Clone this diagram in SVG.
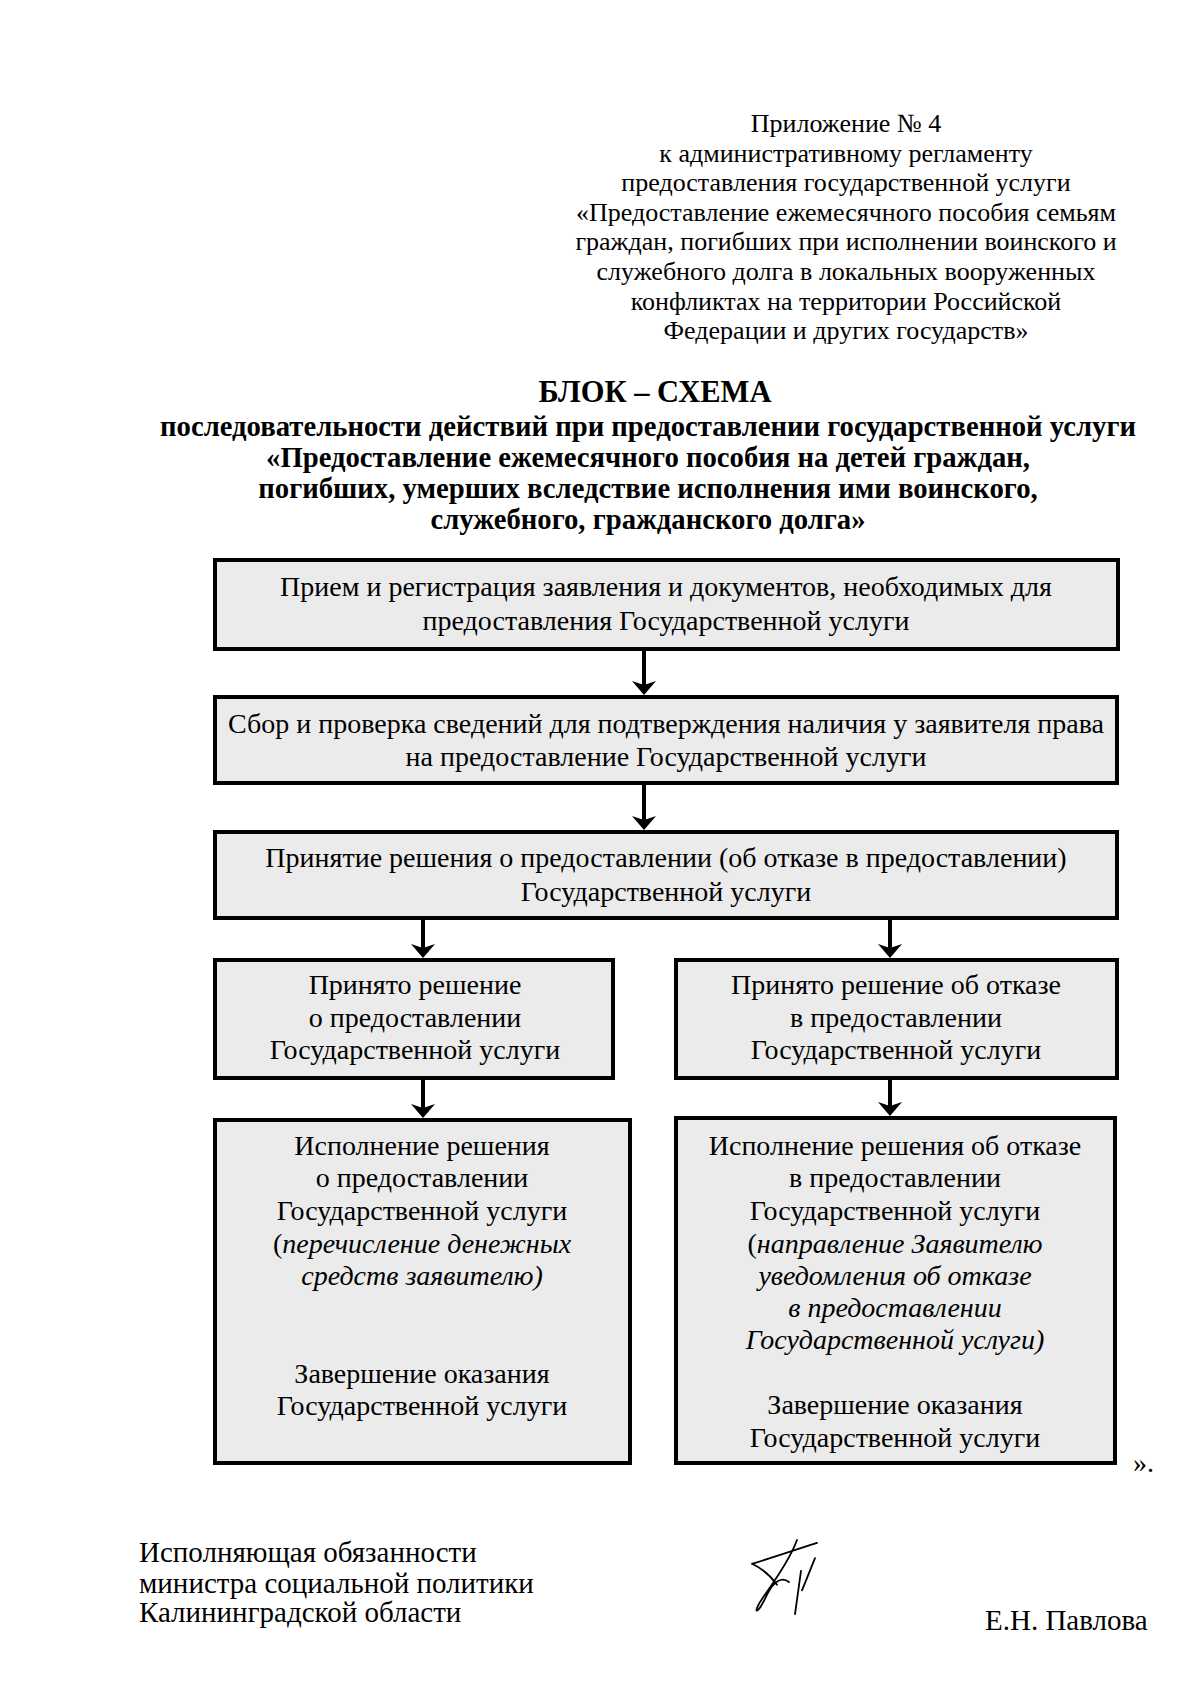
<svg xmlns="http://www.w3.org/2000/svg" width="1200" height="1701" viewBox="0 0 1200 1701">
<defs>
<style>
text{font-family:"Liberation Serif","Times New Roman",serif;fill:#000}
.h{font-size:26px;text-anchor:middle}
.t{font-size:28.7px;font-weight:bold;text-anchor:middle}
.b{font-size:28px;text-anchor:middle}
.i{font-style:italic}
.f{font-size:29px}
.box{fill:#ebebeb;stroke:#000;stroke-width:4}
.con line{stroke:#000;stroke-width:4}
</style>
<marker id="ah" viewBox="0 0 14 24" refX="4" refY="12" markerWidth="14" markerHeight="24" markerUnits="userSpaceOnUse" orient="auto">
<path d="M0,0 L14,12 L0,24 L4,12 Z" fill="#000"/>
</marker>
</defs>
<rect width="1200" height="1701" fill="#fff"/>

<g id="header">
<text class="h" x="846" y="132">Приложение № 4</text>
<text class="h" x="846" y="162">к административному регламенту</text>
<text class="h" x="846" y="191">предоставления государственной услуги</text>
<text class="h" x="846" y="221">«Предоставление ежемесячного пособия семьям</text>
<text class="h" x="846" y="250">граждан, погибших при исполнении воинского и</text>
<text class="h" x="846" y="280">служебного долга в локальных вооруженных</text>
<text class="h" x="846" y="310">конфликтах на территории Российской</text>
<text class="h" x="846" y="339">Федерации и других государств»</text>
</g>

<g id="title">
<text class="t" x="655" y="402" style="font-size:30.5px">БЛОК – СХЕМА</text>
<text class="t" x="648" y="436">последовательности действий при предоставлении государственной услуги</text>
<text class="t" x="648" y="467">«Предоставление ежемесячного пособия на детей граждан,</text>
<text class="t" x="648" y="498">погибших, умерших вследствие исполнения ими воинского,</text>
<text class="t" x="648" y="529">служебного, гражданского долга»</text>
</g>

<g id="node1">
<rect class="box" x="215" y="560" width="903" height="89"/>
<text class="b" x="666" y="596">Прием и регистрация заявления и документов, необходимых для</text>
<text class="b" x="666" y="630">предоставления Государственной услуги</text>
</g>

<g id="node2">
<rect class="box" x="215" y="697" width="902" height="86"/>
<text class="b" x="666" y="733">Сбор и проверка сведений для подтверждения наличия у заявителя права</text>
<text class="b" x="666" y="766">на предоставление Государственной услуги</text>
</g>

<g id="node3">
<rect class="box" x="215" y="832" width="902" height="86"/>
<text class="b" x="666" y="867">Принятие решения о предоставлении (об отказе в предоставлении)</text>
<text class="b" x="666" y="901">Государственной услуги</text>
</g>

<g id="node4l">
<rect class="box" x="215" y="960" width="398" height="118"/>
<text class="b" x="415" y="994">Принято решение</text>
<text class="b" x="415" y="1027">о предоставлении</text>
<text class="b" x="415" y="1059">Государственной услуги</text>
</g>

<g id="node4r">
<rect class="box" x="676" y="960" width="441" height="118"/>
<text class="b" x="896" y="994">Принято решение об отказе</text>
<text class="b" x="896" y="1027">в предоставлении</text>
<text class="b" x="896" y="1059">Государственной услуги</text>
</g>

<g id="node5l">
<rect class="box" x="215" y="1120" width="415" height="343"/>
<text class="b" x="422" y="1155">Исполнение решения</text>
<text class="b" x="422" y="1187">о предоставлении</text>
<text class="b" x="422" y="1220">Государственной услуги</text>
<text class="b" x="422" y="1253">(<tspan class="i">перечисление денежных</tspan></text>
<text class="b i" x="422" y="1285">средств заявителю)</text>
<text class="b" x="422" y="1383">Завершение оказания</text>
<text class="b" x="422" y="1415">Государственной услуги</text>
</g>

<g id="node5r">
<rect class="box" x="676" y="1118" width="439" height="345"/>
<text class="b" x="895" y="1155">Исполнение решения об отказе</text>
<text class="b" x="895" y="1187">в предоставлении</text>
<text class="b" x="895" y="1220">Государственной услуги</text>
<text class="b" x="895" y="1253">(<tspan class="i">направление Заявителю</tspan></text>
<text class="b i" x="895" y="1285">уведомления об отказе</text>
<text class="b i" x="895" y="1317">в предоставлении</text>
<text class="b i" x="895" y="1349">Государственной услуги)</text>
<text class="b" x="895" y="1414">Завершение оказания</text>
<text class="b" x="895" y="1447">Государственной услуги</text>
</g>

<g id="connectors" class="con">
<line x1="644" y1="649" x2="644" y2="685" marker-end="url(#ah)"/>
<line x1="644" y1="783" x2="644" y2="820" marker-end="url(#ah)"/>
<line x1="423" y1="918" x2="423" y2="948" marker-end="url(#ah)"/>
<line x1="890" y1="918" x2="890" y2="948" marker-end="url(#ah)"/>
<line x1="423" y1="1078" x2="423" y2="1108" marker-end="url(#ah)"/>
<line x1="890" y1="1078" x2="890" y2="1106" marker-end="url(#ah)"/>
</g>

<text class="f" x="1133" y="1472" style="font-size:28px">».</text>

<g id="footer">
<text class="f" x="139" y="1562">Исполняющая обязанности</text>
<text class="f" x="139" y="1593">министра социальной политики</text>
<text class="f" x="139" y="1622">Калининградской области</text>
<text class="f" x="985" y="1630">Е.Н. Павлова</text>
<path transform="matrix(1,0,0,1.4,0,-655.2)" vector-effect="non-scaling-stroke" d="M752,1585 C775,1580 800,1574 817,1570 M752,1585 C764,1589 772,1595 777,1600 M797,1568 C790,1582 774,1598 763,1609 C752,1620 756,1624 767,1607 C774,1597 782,1594 789,1598 M801,1590 L795,1621 M815,1581 L802,1604" fill="none" stroke="#000" stroke-width="1.8" stroke-linecap="round"/>
</g>
</svg>
